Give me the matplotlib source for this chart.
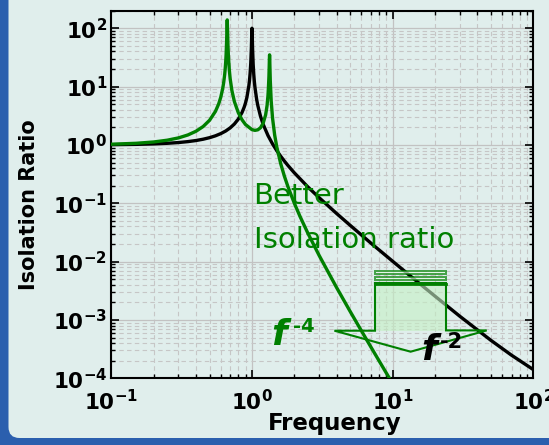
import matplotlib
matplotlib.use('Agg')
import matplotlib.pyplot as plt
import numpy as np
from matplotlib.patches import FancyBboxPatch, Polygon
from matplotlib.transforms import IdentityTransform
from matplotlib.ticker import LogLocator, NullFormatter, FixedLocator

# ---------------- data ----------------
freq_black = [0.1, 0.15, 0.2, 0.25, 0.3, 0.35, 0.4, 0.45, 0.5, 0.55, 0.6, 0.65, 0.7,
              0.75, 0.8, 0.85, 0.88, 0.9, 0.92, 0.95, 0.96, 0.97, 0.98, 0.99, 0.995,
              1.0, 1.005, 1.01, 1.02, 1.03, 1.04, 1.05, 1.08, 1.1, 1.15, 1.2, 1.3,
              1.4, 1.5, 1.6, 1.7, 1.8, 2.0, 2.5, 3.0, 4.0, 5.0, 7.0, 10.0, 15.0,
              20.0, 30.0, 50.0, 70.0, 100.0]
ratio_black = [1.01, 1.023, 1.042, 1.067, 1.099, 1.140, 1.19, 1.254, 1.333, 1.434,
               1.563, 1.732, 1.961, 2.286, 2.778, 3.604, 4.433, 5.263, 6.51, 10.26,
               12.66, 16.9, 24.5, 45.0, 71.0, 100.0, 70.4, 44.5, 24.0, 16.2, 12.15,
               9.76, 6.01, 4.76, 3.10, 2.27, 1.449, 1.042, 0.80, 0.641, 0.529, 0.446,
               0.333, 0.190, 0.125, 0.0667, 0.0417, 0.0208, 0.01015, 0.00451,
               0.00256, 0.00116, 0.000447, 0.000249, 0.000141]

freq_green = [0.1, 0.15, 0.2, 0.25, 0.3, 0.35, 0.4, 0.45, 0.5, 0.55, 0.58, 0.6,
              0.62, 0.63, 0.64, 0.645, 0.65, 0.655, 0.66, 0.663, 0.667, 0.671,
              0.675, 0.68, 0.69, 0.7, 0.72, 0.75, 0.8, 0.85, 0.9, 1.0, 1.05, 1.1,
              1.15, 1.2, 1.25, 1.28, 1.3, 1.31, 1.32, 1.325, 1.33, 1.334, 1.338,
              1.343, 1.35, 1.37, 1.4, 1.45, 1.5, 1.6, 1.7, 1.8, 2.0, 2.2, 2.5, 3.0,
              4.0, 5.0, 6.0, 7.0, 8.0, 10.0]
ratio_green = [1.029, 1.067, 1.124, 1.206, 1.320, 1.482, 1.716, 2.071, 2.656, 3.764,
               5.06, 6.57, 9.38, 11.93, 16.25, 19.9, 25.6, 35.7, 57.6, 86.5, 139.0,
               87.1, 51.8, 33.4, 19.3, 13.6, 8.54, 5.53, 3.56, 2.697, 2.236, 1.829,
               1.778, 1.817, 1.974, 2.343, 3.263, 4.70, 7.10, 9.81, 14.9, 20.6, 29.8,
               35.0, 29.4, 19.8, 12.5, 5.68, 2.897, 1.479, 0.932, 0.4796, 0.2916,
               0.194, 0.1003, 0.0589, 0.03051, 0.01282, 0.003579, 0.001388,
               0.000651, 0.0003453, 0.0002002, 0.00008097]

x_ticks = [0.1, 1, 10, 100]
x_tick_labels = [r'$\mathbf{10^{-1}}$', r'$\mathbf{10^{0}}$', r'$\mathbf{10^{1}}$', r'$\mathbf{10^{2}}$']
y_ticks = [1e-4, 1e-3, 1e-2, 1e-1, 1, 10, 100]
y_tick_labels = [r'$\mathbf{10^{-4}}$', r'$\mathbf{10^{-3}}$', r'$\mathbf{10^{-2}}$',
                 r'$\mathbf{10^{-1}}$', r'$\mathbf{10^{0}}$', r'$\mathbf{10^{1}}$',
                 r'$\mathbf{10^{2}}$']

# ---------------- figure ----------------
plt.rcParams['font.family'] = ['DejaVu Sans']
plt.rcParams['mathtext.fontset'] = 'dejavusans'

W, H = 549, 445
GREEN = '#008000'
fig = plt.figure(figsize=(W / 100, H / 100), dpi=100)
fig.patch.set_facecolor('#2b5fae')

panel = FancyBboxPatch((8.5, H - 438), 700, 520,
                       boxstyle='round,pad=0,rounding_size=11',
                       transform=IdentityTransform(), facecolor='#e0eeec',
                       edgecolor='none', zorder=0)
fig.add_artist(panel)


def fx(x):
    return x / W


def fy(y):
    return 1 - y / H


ax = fig.add_axes([111.3 / W, 1 - 378.3 / H, (533.3 - 111.3) / W, (378.3 - 10.7) / H])
ax.set_facecolor('none')
ax.set_xscale('log')
ax.set_yscale('log')
ax.set_xlim(0.1, 100)
ax.set_ylim(1e-4, 200)

ax.plot(freq_black, ratio_black, color='black', lw=2.4, zorder=3)
ax.plot(freq_green, ratio_green, color=GREEN, lw=2.4, zorder=4)

ax.xaxis.set_major_locator(FixedLocator(x_ticks))
ax.set_xticklabels(x_tick_labels)
ax.yaxis.set_major_locator(FixedLocator(y_ticks))
ax.set_yticklabels(y_tick_labels)
ax.xaxis.set_minor_locator(LogLocator(base=10, subs=np.arange(2, 10), numticks=30))
ax.yaxis.set_minor_locator(LogLocator(base=10, subs=np.arange(2, 10), numticks=30))
ax.xaxis.set_minor_formatter(NullFormatter())
ax.yaxis.set_minor_formatter(NullFormatter())

ax.tick_params(which='both', direction='in', top=True, right=True)
ax.tick_params(which='major', length=6, width=1.2, labelsize=15.5)
ax.tick_params(which='minor', length=3, width=1.0)
ax.tick_params(axis='x', which='major', pad=8)
ax.tick_params(axis='y', which='major', pad=3)
for s in ax.spines.values():
    s.set_linewidth(1.5)

ax.set_axisbelow(True)
ax.grid(which='major', color='#c2c2c2', lw=0.9, ls='-')
ax.grid(which='minor', color='#c6c6c6', lw=0.8, ls=(0, (4, 3)))

# ---------------- arrow annotation (pixel -> data) ----------------
inv = ax.transData.inverted()


def d(x, y):
    return tuple(inv.transform((x, H - y)))


body = Polygon([d(375, 283), d(375, 330.7), d(446, 330.7), d(446, 283)], closed=True,
               facecolor='#c4f0c4', alpha=0.6, edgecolor='none', zorder=5)
ax.add_patch(body)
for (y0, y1) in [(271.3, 273.9), (276.8, 280.0)]:
    ax.add_patch(Polygon([d(375, y0), d(375, y1), d(446, y1), d(446, y0)], closed=True,
                         facecolor='#e8f8e8', alpha=0.7, edgecolor=GREEN, lw=1.4, zorder=6))
outline = [d(375, 283), d(375, 330.7), d(334.4, 330.7), d(410.6, 351.7),
           d(486.7, 330.4), d(446, 330.4), d(446, 283), d(375, 283)]
ax.plot([p[0] for p in outline], [p[1] for p in outline], color=GREEN, lw=1.5,
        zorder=6, solid_joinstyle='miter')
ax.plot([d(375, 283.7)[0], d(446, 283.7)[0]], [d(375, 283.7)[1], d(446, 283.7)[1]],
        color=GREEN, lw=2.0, zorder=6)

# ---------------- texts ----------------
fig.text(fx(253.5), fy(204), 'Better', color=GREEN, fontsize=21, ha='left', va='baseline')
fig.text(fx(253.5), fy(248), 'Isolation ratio', color=GREEN, fontsize=21, ha='left', va='baseline')

fig.text(fx(271), fy(345), 'f', color=GREEN, fontsize=26, fontweight='bold',
         fontstyle='italic', ha='left', va='baseline')
fig.text(fx(293), fy(332), '-4', color=GREEN, fontsize=14, fontweight='bold',
         ha='left', va='baseline')
fig.text(fx(421), fy(360), 'f', color='black', fontsize=26, fontweight='bold',
         fontstyle='italic', ha='left', va='baseline')
fig.text(fx(440), fy(348), '-2', color='black', fontsize=15, fontweight='bold',
         ha='left', va='baseline')

fig.text(fx(335), fy(430), 'Frequency', fontsize=16.5, fontweight='bold',
         ha='center', va='baseline')
fig.text(fx(29), fy(205), 'Isolation Ratio', fontsize=15, fontweight='bold',
         rotation=90, ha='center', va='center')

fig.savefig('out.png', dpi=100, facecolor=fig.get_facecolor())
